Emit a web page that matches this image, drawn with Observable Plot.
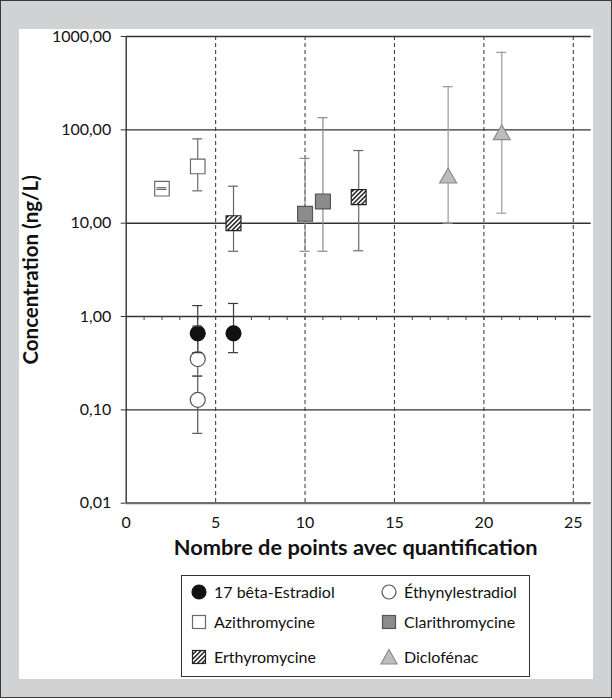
<!DOCTYPE html>
<html><head><meta charset="utf-8">
<script src="https://cdn.jsdelivr.net/npm/d3@7"></script>
<script src="https://cdn.jsdelivr.net/npm/@observablehq/plot@0.6"></script>
<style>
body{margin:0;font-family:Lato,"Open Sans",sans-serif;}
#frame{position:absolute;left:0;top:0;width:610px;height:696px;background:#d1d2d4;border:1px solid #3a3a3a;}
#panel{position:absolute;left:18px;top:28px;width:574px;height:650px;background:#fff;}
#chart{position:absolute;left:0;top:0;}
#legend{position:absolute;left:162px;top:546px;width:347px;height:100px;border:1px solid #333;background:#fff;font-size:16px;color:#111;}
.item{position:absolute;height:20px;line-height:20px;white-space:nowrap;}
.item svg{position:absolute;left:0;top:0;}
.item span{position:absolute;left:24px;top:0;}
</style></head>
<body>
<div id="frame"><div id="panel"><div id="chart"></div><div id="legend"></div></div></div>
<script>
// ---- data ----
const seriesNames = ["17 bêta-Estradiol", "Éthynylestradiol", "Azithromycine", "Clarithromycine", "Erthyromycine", "Diclofénac"];
const xPoints      = [[4, 6], [4, 4], [2, 4], [10, 11], [6, 13], [18, 21]];
const concentrations = [[0.66, 0.66], [0.35, 0.128], [23.4, 40.5], [12.6, 17.1], [10, 19], [30.4, 88.6]];
const lowerBounds  = [[0.41, 0.41], [0.23, 0.056], [23.0, 22.2], [5, 5], [5, 5.06], [10, 12.8]];
const upperBounds  = [[1.31, 1.38], [0.79, 0.23], [24.0, 80], [49.4, 135], [24.9, 60], [290, 676]];
const xTicks = [0, 5, 10, 15, 20, 25];
const yTicks = [0.01, 0.1, 1, 10, 100, 1000];
const yTickLabels = ["0,01", "0,10", "1,00", "10,00", "100,00", "1000,00"];
const xTitle = "Nombre de points avec quantification";
const yTitle = "Concentration (ng/L)";

// ---- styles ----
const styles = [
  {symbol: "circle", r: 7.5, fill: "#111", stroke: "#111", bar: "#3a3a3a"},
  {symbol: "circle", r: 7.5, fill: "#fff", stroke: "#555", bar: "#555"},
  {symbol: "square", r: 8.2, fill: "#fff", stroke: "#6a6a6a", bar: "#6a6a6a"},
  {symbol: "square", r: 8.4, fill: "#8c8c8c", stroke: "#555", bar: "#8a8a8a"},
  {symbol: "square", r: 8.4, fill: "url(#hatch)", stroke: "#222", bar: "#666"},
  {symbol: "triangle", r: 6.3, fill: "#bdbdbf", stroke: "#8a8a8a", bar: "#9a9a9a"}
];

const seriesRows = seriesNames.map((name, k) => xPoints[k].map((x, j) => ({
  series: name, x, y: concentrations[k][j], lo: lowerBounds[k][j], hi: upperBounds[k][j]
})));

const barMarks = [], dotMarks = [], capMarks = [];
seriesRows.forEach((rows, k) => {
  const s = styles[k];
  barMarks.push(Plot.ruleX(rows, {x: "x", y1: "lo", y2: "hi", stroke: s.bar, strokeWidth: 1.2}));
  dotMarks.push(Plot.dot(rows, {x: "x", y: "y", symbol: s.symbol, r: s.r, fill: s.fill, stroke: s.stroke, strokeWidth: 1.2}));
  capMarks.push(Plot.ruleY(rows, {y: "hi", x1: "x", x2: "x", insetLeft: -5, insetRight: -5, stroke: s.bar, strokeWidth: 1.2}));
  capMarks.push(Plot.ruleY(rows, {y: "lo", x1: "x", x2: "x", insetLeft: -5, insetRight: -5, stroke: s.bar, strokeWidth: 1.2}));
});

const fmt = d => yTickLabels[yTicks.indexOf(d)];

const svg = Plot.plot({
  width: 574, height: 540,
  marginLeft: 106.7, marginRight: 2.3, marginTop: 7, marginBottom: 66.3,
  style: {fontFamily: "Lato, 'Open Sans', sans-serif", fontSize: "16px", color: "#111", background: "transparent", overflow: "visible"},
  x: {domain: [0, 26]},
  y: {type: "log", domain: [0.01, 1000]},
  marks: [
    Plot.ruleX(xTicks.filter(d => d > 0), {stroke: "#444", strokeDasharray: "4,3", strokeWidth: 1.1}),
    Plot.ruleY(yTicks.filter(d => d > 0.01), {stroke: "#333", strokeWidth: 1.4}),
    Plot.ruleX(d3.range(1, 26), {y1: 1, y2: 1, insetBottom: -4, stroke: "#444", strokeWidth: 1}),
    Plot.ruleY([0.01], {stroke: "#6d6d6d", strokeWidth: 2.2}),
    Plot.ruleX([0], {stroke: "#333", strokeWidth: 1.4}),
    Plot.axisY({ticks: yTicks, tickSize: 5, tickPadding: 10, tickFormat: fmt, label: null, stroke: "#333"}),
    Plot.axisX({ticks: xTicks, tickSize: 0, tickPadding: 13, label: null}),
    ...barMarks,
    ...dotMarks,
    ...capMarks,
    Plot.text([yTitle], {frameAnchor: "left", dx: -95, rotate: -90, textAnchor: "middle", lineAnchor: "middle", fontWeight: "bold", fontSize: 20.5, fill: "#111"}),
    Plot.text([xTitle], {frameAnchor: "bottom", dy: 45, dx: -3, textAnchor: "middle", lineAnchor: "middle", fontWeight: "bold", fontSize: 21.8, fill: "#111"})
  ]
});

const ns = "http://www.w3.org/2000/svg";
const defs = document.createElementNS(ns, "defs");
defs.innerHTML = '<pattern id="hatch" patternUnits="userSpaceOnUse" width="3.2" height="3.2" patternTransform="rotate(45)"><rect width="3.2" height="3.2" fill="#fff"/><line x1="0.8" y1="0" x2="0.8" y2="3.2" stroke="#111" stroke-width="1.4"/></pattern>';
svg.prepend(defs);
document.getElementById("chart").appendChild(svg);

// ---- legend ----
const legendPos = [[0, 6], [190, 6], [0, 36], [190, 36], [0, 71], [190, 71]];
const legend = document.getElementById("legend");
seriesNames.forEach((name, k) => {
  const s = styles[k];
  const div = document.createElement("div");
  div.className = "item";
  div.style.left = (legendPos[k][0] + 8) + "px";
  div.style.top = legendPos[k][1] + "px";
  let shape;
  if (s.symbol === "circle") shape = `<circle cx="9" cy="10" r="7" fill="${s.fill}" stroke="${s.stroke}" stroke-width="1.2"/>`;
  else if (s.symbol === "square") shape = `<rect x="2.5" y="3.5" width="13" height="13" fill="${s.fill}" stroke="${s.stroke}" stroke-width="1.2"/>`;
  else shape = `<path d="M9 2.5 L17 17 L1 17 Z" fill="${s.fill}" stroke="${s.stroke}" stroke-width="1.2"/>`;
  div.innerHTML = `<svg width="20" height="20">${shape}</svg><span>${name}</span>`;
  legend.appendChild(div);
});
</script>
</body></html>
